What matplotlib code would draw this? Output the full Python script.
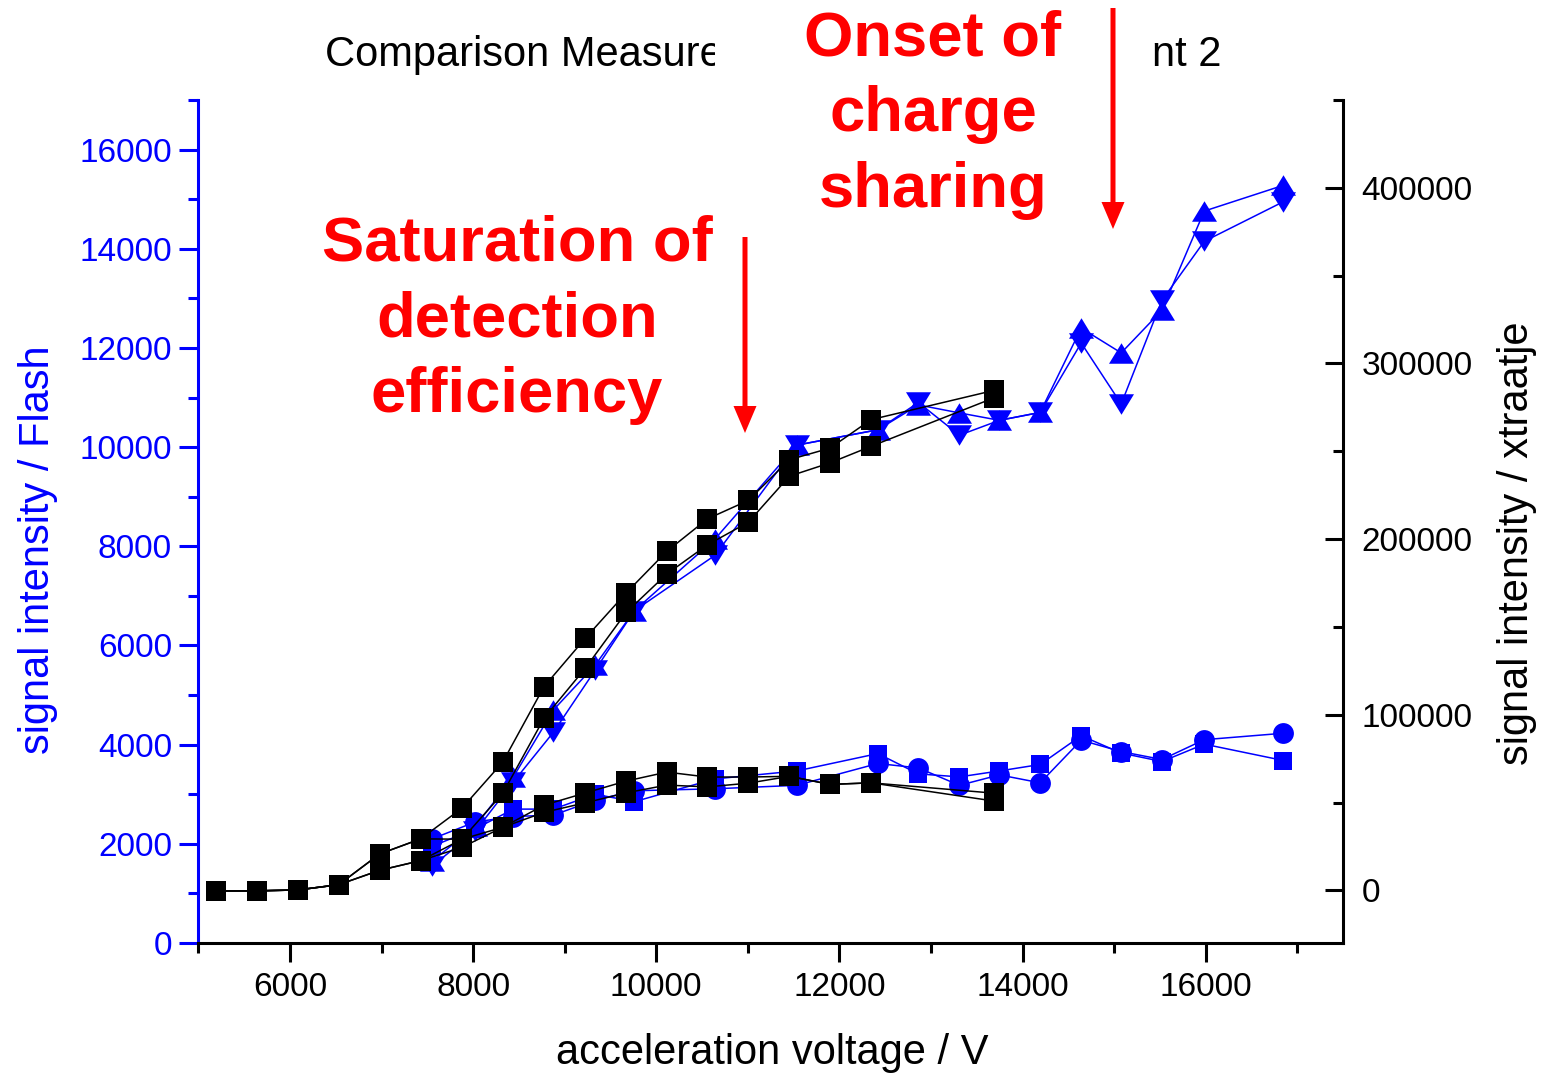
import matplotlib
matplotlib.use("Agg")
import matplotlib.pyplot as plt
from matplotlib.patches import Rectangle, FancyArrow
from matplotlib.ticker import MultipleLocator

plt.rcParams["font.family"] = ["Liberation Sans", "DejaVu Sans"]

# ---- Flash detector (left axis) ----
flash_v = [7552, 8022, 8440, 8877, 9332, 9761, 10643, 11535, 12420,
           12863, 13311, 13748, 14193, 14641, 15078, 15523, 15985, 16850]
flash_up = [1650, 2350, 3350, 4700, 5600, 6700, 8150, 10040, 10350,
            10850, 10690, 10540, 10700, 12400, 11900, 12760, 14760, 15280]
flash_down = [1550, 2250, 3250, 4250, 5500, 6700, 7820, 10040, 10350,
              10900, 10240, 10540, 10700, 12100, 10870, 12960, 14150, 14950]
flash_circle = [2100, 2440, 2550, 2580, 2880, 3070, 3110, 3180, 3620,
                3530, 3180, 3390, 3230, 4090, 3860, 3700, 4100, 4230]
flash_square = [1950, 2300, 2700, 2700, 3000, 2850, 3310, 3470, 3820,
                3410, 3350, 3470, 3600, 4180, 3830, 3660, 4010, 3680]

# ---- xtraatje detector (right axis) ----
xtra_v = [5192, 5637, 6085, 6532, 6980, 7428, 7879, 8324, 8775,
          9223, 9671, 10115, 10559, 11006, 11454, 11899, 12346, 13693]
xtra_a1 = [-300, -300, 200, 3200, 20700, 29300, 46800, 73000, 116000,
           143400, 169300, 193000, 211500, 222000, 245200, 251800, 268000, 284700]
xtra_a2 = [-300, -300, 200, 3200, 11400, 16900, 29100, 55200, 98000,
           126300, 158200, 180100, 196700, 209600, 235800, 243400, 252800, 280500]
xtra_b1 = [-300, -300, 200, 3200, 20700, 29300, 29100, 35900, 48500,
           55400, 62200, 67300, 64500, 64500, 64900, 60300, 61200, 55300]
xtra_b2 = [-300, -300, 200, 3200, 11400, 16900, 24500, 35900, 44400,
           49800, 55500, 59900, 58900, 61000, 64900, 60300, 61200, 50800]

left_ticks = [0, 2000, 4000, 6000, 8000, 10000, 12000, 14000, 16000]
right_ticks = [0, 100000, 200000, 300000, 400000]
x_ticks = [6000, 8000, 10000, 12000, 14000, 16000]

W, H = 1547, 1073
BLUE = "#0000ff"
RED = "#ff0000"


def fx(px):
    return px / W


def fy(py):
    return 1 - py / H


fig = plt.figure(figsize=(W / 100, H / 100), dpi=100)
ax = fig.add_axes([fx(198.4), fy(943), fx(1343) - fx(198.4), fy(100) - fy(943)])
ax2 = ax.twinx()

up_tri = [(-1, -0.82), (1, -0.82), (0, 0.82), (-1, -0.82)]
down_tri = [(-1, 0.82), (1, 0.82), (0, -0.82), (-1, 0.82)]

line_kw = dict(lw=1.1, mew=0)
ax.plot(flash_v, flash_up, color=BLUE, marker=up_tri, ms=18, **line_kw)
ax.plot(flash_v, flash_down, color=BLUE, marker=down_tri, ms=18, **line_kw)
ax.plot(flash_v, flash_circle, color=BLUE, marker="o", ms=15, **line_kw)
ax.plot(flash_v, flash_square, color=BLUE, marker="s", ms=13.5, **line_kw)

for series in (xtra_a1, xtra_a2, xtra_b1, xtra_b2):
    ax2.plot(xtra_v, series, color="black", marker="s", ms=13.8, **line_kw)

ax.set_xlim(5000, 17500)
ax.set_ylim(0, 17000)
ax2.set_ylim(-30000, 450000)

ax.set_xticks(x_ticks)
ax.set_xticklabels([str(t) for t in x_ticks])
ax.xaxis.set_minor_locator(MultipleLocator(1000))
ax.set_yticks(left_ticks)
ax.set_yticklabels([str(t) for t in left_ticks])
ax.yaxis.set_minor_locator(MultipleLocator(1000))
ax2.set_yticks(right_ticks)
ax2.set_yticklabels([str(t) for t in right_ticks])
ax2.yaxis.set_minor_locator(MultipleLocator(50000))

for s in ("top", "right"):
    ax.spines[s].set_visible(False)
for s in ("top", "left", "bottom"):
    ax2.spines[s].set_visible(False)
ax.spines["left"].set_color(BLUE)
for sp in (ax.spines["left"], ax.spines["bottom"], ax2.spines["right"]):
    sp.set_linewidth(2.2)

ax.tick_params(axis="x", which="major", direction="out", length=14, width=2.2,
               labelsize=24, pad=7)
ax.tick_params(axis="x", which="minor", direction="out", length=7, width=2.2)
ax.tick_params(axis="y", which="major", direction="out", length=14, width=2.2,
               labelsize=24, pad=5, colors=BLUE)
ax.tick_params(axis="y", which="minor", direction="out", length=7, width=2.2,
               colors=BLUE)
ax2.tick_params(axis="y", which="major", direction="in", length=13, width=2.2,
                labelsize=24, pad=13.5)
ax2.tick_params(axis="y", which="minor", direction="in", length=7, width=2.2)

# axis titles
fig.text(fx(38), fy(550), "signal intensity / Flash", color=BLUE, fontsize=30,
         rotation=90, ha="center", va="center")
fig.text(fx(1517), fy(543), "signal intensity / xtraatje", color="black",
         fontsize=30, rotation=90, ha="center", va="center")
fig.text(fx(772), fy(1053), "acceleration voltage / V", color="black",
         fontsize=30, ha="center", va="center")

# chart title, partly hidden behind the annotation box
fig.text(fx(325), fy(66), "Comparison Measure", fontsize=30, ha="left",
         va="baseline", zorder=3)
fig.text(fx(1152), fy(66), "nt 2", fontsize=30, ha="left", va="baseline",
         zorder=3)
fig.patches.append(Rectangle((fx(715), fy(95)), fx(1150) - fx(715), fy(0) - fy(95),
                             transform=fig.transFigure, facecolor="white",
                             edgecolor="none", zorder=3.5))

# annotations
fig.text(fx(517), fy(320), "Saturation of\ndetection\nefficiency", color=RED,
         fontsize=45.6, fontweight="bold", ha="center", va="center",
         linespacing=1.36, zorder=4)
fig.text(fx(933), fy(115), "Onset of\ncharge\nsharing", color=RED,
         fontsize=45.6, fontweight="bold", ha="center", va="center",
         linespacing=1.36, zorder=4)


def add_arrow(x, y_top, y_tip):
    length = fy(y_tip) - fy(y_top)
    arr = FancyArrow(fx(x), fy(y_top), 0, length, width=fx(5),
                     head_width=fx(23), head_length=27 / H,
                     length_includes_head=True, color=RED, lw=0,
                     transform=fig.transFigure, zorder=5)
    fig.patches.append(arr)


add_arrow(745, 237, 433)
add_arrow(1113, 8, 229)

fig.savefig("out.png", dpi=100)
